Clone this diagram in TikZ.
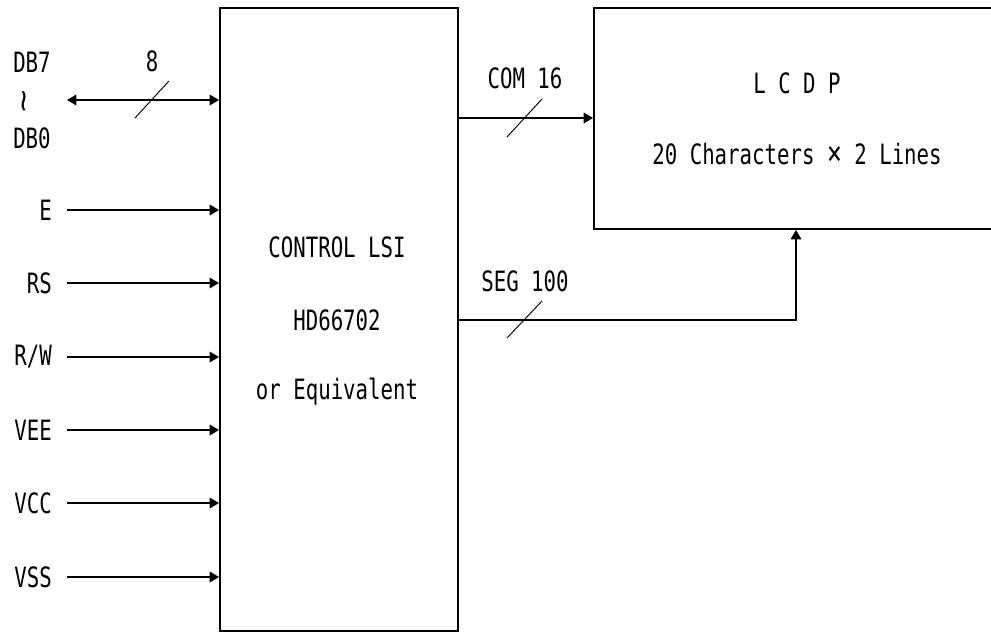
\documentclass[tikz,border=0pt]{standalone}
\usepackage{fontspec}
\setmonofont{DejaVu Sans Mono}[FakeStretch=0.74]
\usetikzlibrary{arrows.meta}
\begin{document}
\begin{tikzpicture}[x=0.75pt,y=-0.75pt,
  font=\ttfamily\fontsize{21}{24}\selectfont,
  box/.style={draw,line width=1.5pt,rectangle,inner sep=0pt},
  arr/.style={line width=0.9pt,-{Triangle[length=7pt,width=8pt]}},
  darr/.style={line width=0.9pt,{Triangle[length=7pt,width=8pt]}-{Triangle[length=7pt,width=8pt]}},
  slash/.style={line width=0.7pt},
  lbl/.style={inner sep=0pt}]
\clip (0,0) rectangle (991,632);
\useasboundingbox (0,0) rectangle (991,632);
% boxes
\node[box,minimum width=178.5pt,minimum height=467.25pt,anchor=north west] (ctrl) at (219,7) {};
\node[box,minimum width=300pt,minimum height=165.75pt,anchor=north west] (lcd) at (593,7) {};
\node[lbl] (t1) at (337,247) {CONTROL LSI};
\node[lbl] (t2) at (337,320) {HD66702};
\node[lbl] (t3) at (337,392) {or Equivalent};
\node[lbl] (t4) at (797,83) {L C D P};
\node[lbl] (t5) at (797,154) {20 Characters {\fontsize{25}{24}\selectfont ×} 2 Lines};
% data bus
\node[lbl,anchor=west] (db7) at (13,62) {DB7};
\node[lbl] (tld) at (27,101) {\rotatebox{90}{\scalebox{1.8}[1.0]{\textasciitilde}}};
\node[lbl,anchor=west] (db0) at (13,138) {DB0};
\coordinate (sdb) at (67,100);
\draw[darr] (sdb) -- (sdb -| ctrl.west);
\coordinate (s1a) at (135,118); \coordinate (s1b) at (169,81);
\draw[slash] (s1a) -- (s1b);
\node[lbl] (n8) at (152,61) {8};
% inputs
\foreach \nm/\yy in {E/210,RS/283,{R/W}/357,VEE/430,VCC/503,VSS/577}{
  \node[lbl,anchor=east] (l\yy) at (52,\yy) {\nm};
  \coordinate (s\yy) at (67,\yy);
  \draw[arr] (s\yy) -- (s\yy -| ctrl.west);
}
% COM
\coordinate (com) at (457,118);
\draw[arr] (com) -- (com -| lcd.west);
\coordinate (s2a) at (507,137); \coordinate (s2b) at (542,99);
\draw[slash] (s2a) -- (s2b);
\node[lbl] (lcom) at (525,78) {COM 16};
% SEG
\coordinate (seg) at (457,320);
\coordinate (segc) at (796,320);
\draw[arr] (seg) -- (segc) -- (segc |- lcd.south);
\coordinate (s3a) at (507,338); \coordinate (s3b) at (542,301);
\draw[slash] (s3a) -- (s3b);
\node[lbl] (lseg) at (525,281) {SEG 100};
\end{tikzpicture}
\end{document}
